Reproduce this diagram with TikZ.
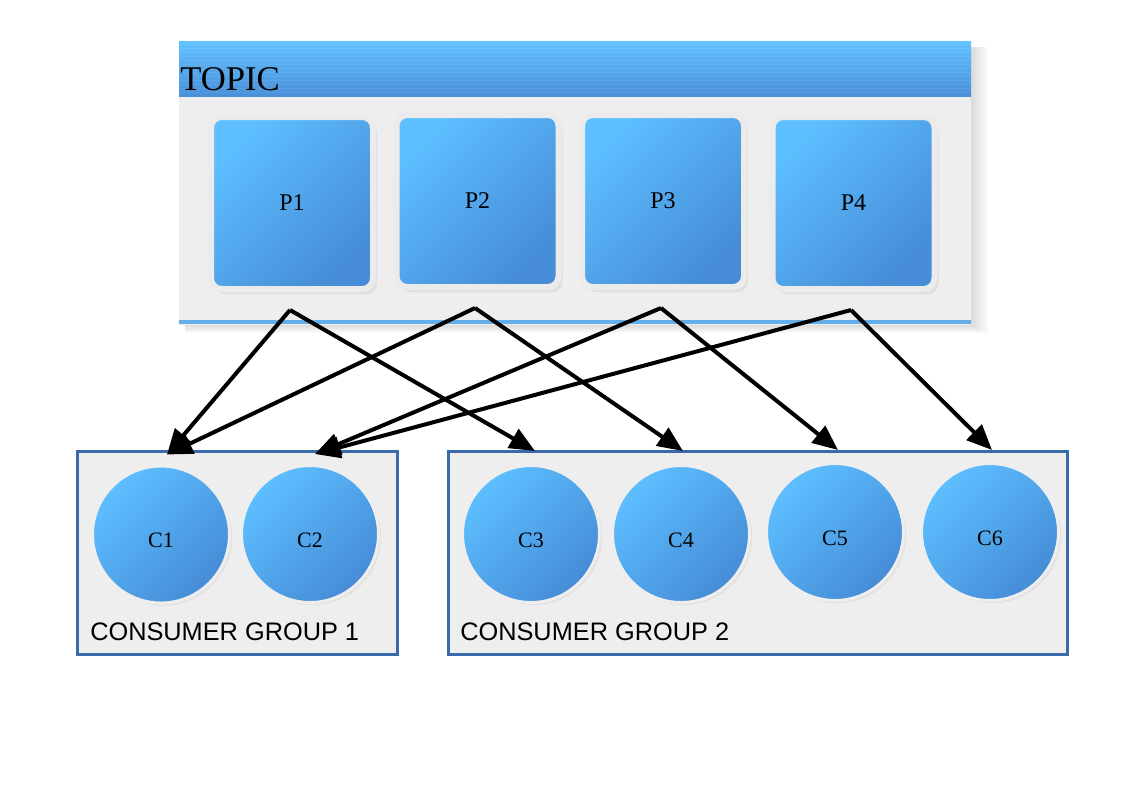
\documentclass[tikz,border=0pt]{standalone}
\usepackage{fontspec}
\setmainfont{Liberation Serif}
\setsansfont{Liberation Sans}
\usetikzlibrary{arrows.meta,shadows}
\definecolor{bl}{HTML}{5DBFFF}
\definecolor{bd}{HTML}{468CD6}
\definecolor{hl}{HTML}{62C2FF}
\definecolor{hd}{HTML}{4A90D9}
\definecolor{panel}{HTML}{EEEEEE}
\definecolor{frame}{HTML}{EBEBEB}
\definecolor{gborder}{HTML}{3A69AC}
\definecolor{tline}{HTML}{64AFEA}
\tikzset{
  pbox/.style={rectangle, rounded corners=8pt, inner sep=0pt,
    minimum width=121.5pt, minimum height=129pt,
    draw=frame, line width=4.5pt,
    top color=bl, bottom color=bd, shading angle=45,
    drop shadow={opacity=0.12, shadow xshift=3pt, shadow yshift=-4pt},
    font=\fontsize{18}{20}\selectfont},
  cons/.style={circle, inner sep=0pt, minimum size=102.75pt,
    draw=panel, line width=2.25pt,
    top color=bl, bottom color=bd, shading angle=45,
    drop shadow={opacity=0.10, shadow xshift=2pt, shadow yshift=-2pt},
    text height=20pt, text depth=0pt,
    font=\fontsize{16.5}{18}\selectfont},
  group/.style={rectangle, inner sep=0pt, fill=panel, draw=gborder, line width=2.25pt},
  glabel/.style={anchor=base west, inner sep=0pt, font=\sffamily\fontsize{19}{21}\selectfont},
  link/.style={line width=3pt, -{Triangle[length=19pt,width=16pt]}},
}
\begin{document}
\begin{tikzpicture}[x=0.75pt,y=-0.75pt]
\useasboundingbox (0,0) rectangle (1123,794);
\fill[white] (0,0) rectangle (1123,794);
% topic shadow
\foreach \i in {1,...,12}{
  \fill[black, opacity=0.012] (185,47) rectangle (971+1.5*\i,325+0.7*\i);
}
\node[rectangle, inner sep=0pt, fill=panel, minimum width=594pt, minimum height=213pt] (topic) at (575,183) {};
\fill[top color=hl, bottom color=hd] (179,41) rectangle (971,96);
\foreach \yy in {44,48,...,94}{
  \draw[white, opacity=0.06, line width=0.6pt] (179,\yy) -- (971,\yy);
}
\fill[tline] (179,320) rectangle (971,324);
\node[anchor=base west, inner sep=0pt, font=\fontsize{26}{28}\selectfont] (ttl) at (180,90) {TOPIC};
% partitions
\node[pbox] (p1) at (292,203) {P1};
\node[pbox] (p2) at (477.5,201) {P2};
\node[pbox] (p3) at (663,201) {P3};
\node[pbox] (p4) at (853.5,203) {P4};
\coordinate (p1s) at (290,310);
\coordinate (p2s) at (475,308);
\coordinate (p3s) at (661,308);
\coordinate (p4s) at (851,310);
% groups
\node[group, minimum width=240pt, minimum height=152.25pt] (g1) at (237,552.5) {};
\node[group, minimum width=464.25pt, minimum height=152.25pt] (g2) at (757.5,552.5) {};
\node[glabel] (g1l) at (90,640) {CONSUMER GROUP 1};
\node[glabel] (g2l) at (460,640) {CONSUMER GROUP 2};
% consumers
\node[cons] (c1) at (161,534.5) {C1};
\node[cons] (c2) at (310,534) {C2};
\node[cons] (c3) at (531,534) {C3};
\node[cons] (c4) at (681,534) {C4};
\node[cons] (c5) at (835,532) {C5};
\node[cons] (c6) at (990,532) {C6};
% links
\draw[link] (p1s) -- ([shift={(6,-10)}]c1.north);
\draw[link] (p2s) -- ([shift={(6,-10)}]c1.north);
\draw[link] (p1s) -- ([shift={(4,-13)}]c3.north);
\draw[link] (p2s) -- ([shift={(2,-13)}]c4.north);
\draw[link] (p3s) -- ([shift={(5,-10)}]c2.north);
\draw[link] (p4s) -- ([shift={(5,-10)}]c2.north);
\draw[link] (p3s) -- ([shift={(3,-12)}]c5.north);
\draw[link] (p4s) -- ([shift={(2,-12)}]c6.north);
\end{tikzpicture}
\end{document}
